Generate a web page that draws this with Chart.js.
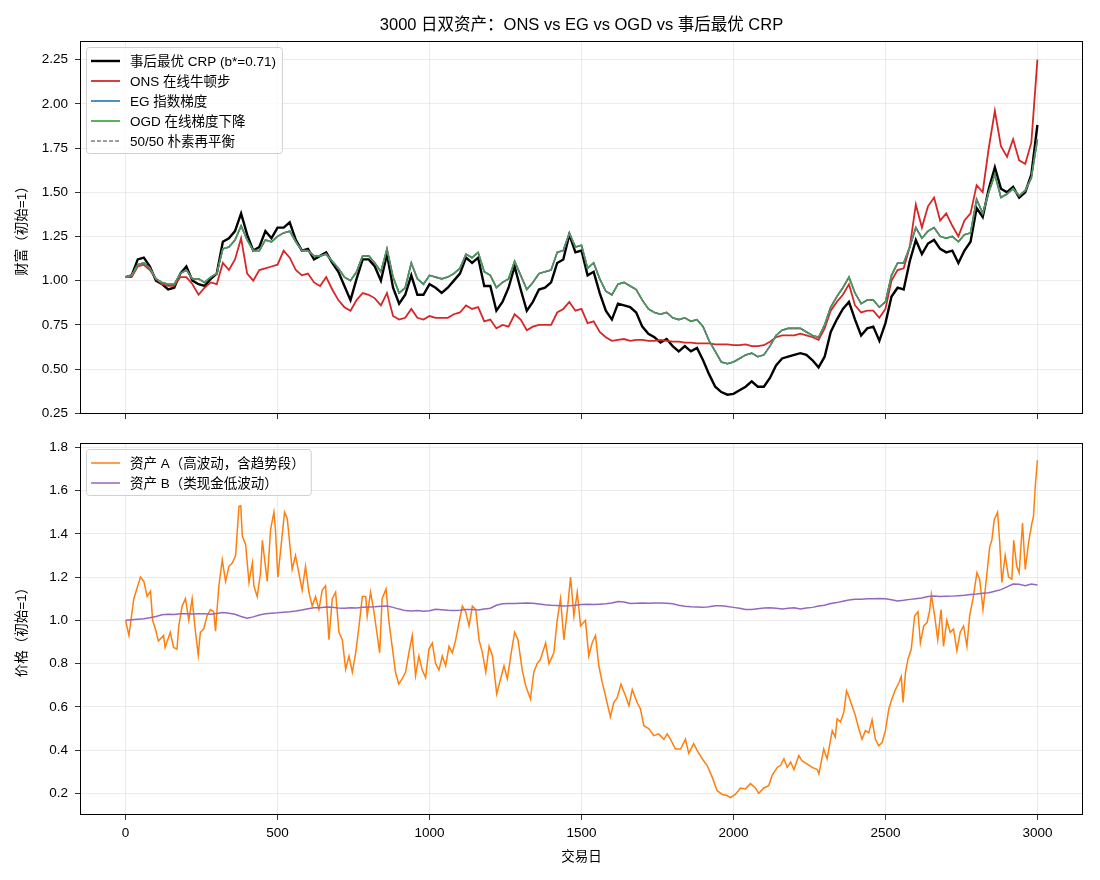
<!DOCTYPE html>
<html>
<head>
<meta charset="utf-8">
<script src="https://cdn.jsdelivr.net/npm/chart.js@4.4.0/dist/chart.umd.min.js"></script>
<style>
  html, body { margin: 0; padding: 0; background: #fff; }
  #wrap { position: relative; width: 1100px; height: 880px; }
  canvas { position: absolute; left: 0; }
  #wealthChart { top: 0; }
  #priceChart { top: 440px; }
</style>
</head>
<body>
<div id="wrap">
  <canvas id="wealthChart" width="1100" height="440"></canvas>
  <canvas id="priceChart" width="1100" height="440"></canvas>
</div>
<script>
// wealth curves and asset B every 20 trading days
const DAY_STEP = 20;
const days = Array.from({ length: 151 }, (_, i) => i * DAY_STEP);

const xTicks = [0, 500, 1000, 1500, 2000, 2500, 3000];
const wealthTicks = [0.25, 0.50, 0.75, 1.00, 1.25, 1.50, 1.75, 2.00, 2.25];
const priceTicks = [0.2, 0.4, 0.6, 0.8, 1.0, 1.2, 1.4, 1.6, 1.8];

// 事后最优 CRP
const crpWealth = [
  1.02, 1.03, 1.12, 1.13, 1.08, 1.00, 0.98, 0.95, 0.96, 1.04,
  1.08, 1.00, 0.98, 0.97, 1.01, 1.04, 1.22, 1.24, 1.28, 1.38,
  1.26, 1.17, 1.19, 1.28, 1.24, 1.30, 1.30, 1.33, 1.23, 1.17,
  1.18, 1.12, 1.14, 1.16, 1.10, 1.05, 0.97, 0.89, 1.01, 1.12,
  1.12, 1.08, 1.00, 1.15, 0.96, 0.87, 0.92, 1.03, 0.92, 0.92,
  0.98, 0.96, 0.93, 0.96, 1.00, 1.04, 1.13, 1.10, 1.13, 0.97,
  0.97, 0.83, 0.88, 0.96, 1.08, 0.95, 0.83, 0.88, 0.95, 0.96,
  0.99, 1.10, 1.12, 1.26, 1.16, 1.17, 1.03, 1.05, 0.93, 0.83,
  0.78, 0.87, 0.86, 0.85, 0.82, 0.74, 0.70, 0.68, 0.65, 0.67,
  0.63, 0.60, 0.63, 0.60, 0.62, 0.55, 0.47, 0.40, 0.37, 0.355,
  0.36, 0.38, 0.40, 0.43, 0.40, 0.40, 0.45, 0.52, 0.56, 0.57,
  0.58, 0.59, 0.58, 0.55, 0.51, 0.57, 0.71, 0.78, 0.84, 0.88,
  0.78, 0.69, 0.73, 0.74, 0.66, 0.76, 0.91, 0.96, 0.95, 1.11,
  1.23, 1.15, 1.21, 1.23, 1.18, 1.16, 1.17, 1.10, 1.17, 1.22,
  1.41, 1.36, 1.52, 1.64, 1.52, 1.50, 1.53, 1.47, 1.50, 1.60,
  1.88
];

// ONS 在线牛顿步
const onsWealth = [
  1.02, 1.02, 1.08, 1.09, 1.06, 1.01, 0.98, 0.97, 0.97, 1.02,
  1.02, 0.98, 0.92, 0.96, 0.99, 0.98, 1.10, 1.06, 1.12, 1.24,
  1.04, 1.00, 1.06, 1.07, 1.08, 1.09, 1.17, 1.13, 1.06, 1.03,
  1.04, 0.99, 0.97, 1.02, 0.95, 0.89, 0.85, 0.83, 0.89, 0.93,
  0.92, 0.90, 0.86, 0.93, 0.80, 0.78, 0.79, 0.84, 0.79, 0.78,
  0.80, 0.79, 0.79, 0.79, 0.81, 0.82, 0.86, 0.84, 0.85, 0.77,
  0.78, 0.73, 0.75, 0.74, 0.81, 0.78, 0.72, 0.74, 0.75, 0.75,
  0.75, 0.82, 0.84, 0.88, 0.83, 0.84, 0.76, 0.77, 0.71, 0.68,
  0.66, 0.665, 0.67, 0.66, 0.665, 0.665, 0.66, 0.66, 0.665, 0.66,
  0.655, 0.655, 0.65, 0.65, 0.645, 0.645, 0.645, 0.64, 0.64, 0.64,
  0.635, 0.635, 0.64, 0.63, 0.63, 0.635, 0.655, 0.68, 0.69, 0.69,
  0.69, 0.70, 0.69, 0.68, 0.665, 0.73, 0.83, 0.88, 0.92, 0.98,
  0.86, 0.82, 0.83, 0.83, 0.79, 0.84, 1.00, 1.06, 1.07, 1.19,
  1.43, 1.30, 1.42, 1.47, 1.34, 1.38, 1.31, 1.25, 1.34, 1.38,
  1.54, 1.50, 1.75, 1.96, 1.76, 1.70, 1.80, 1.68, 1.66, 1.78,
  2.25
];

// EG, OGD and 50/50 overlap at this scale, so they share one reading
const balancedWealth = [
  1.02, 1.03, 1.09, 1.10, 1.07, 1.01, 0.99, 0.98, 0.98, 1.04,
  1.06, 1.01, 1.01, 0.99, 1.02, 1.04, 1.18, 1.19, 1.23, 1.31,
  1.23, 1.17, 1.17, 1.23, 1.22, 1.25, 1.27, 1.28, 1.22, 1.17,
  1.17, 1.14, 1.14, 1.15, 1.11, 1.07, 1.02, 1.00, 1.05, 1.14,
  1.14, 1.10, 1.05, 1.18, 1.02, 0.93, 0.96, 1.10, 1.01, 0.98,
  1.03, 1.02, 1.01, 1.02, 1.04, 1.07, 1.15, 1.13, 1.16, 1.05,
  1.03, 0.96, 0.99, 1.01, 1.11, 1.03, 0.95, 0.99, 1.04, 1.05,
  1.06, 1.16, 1.17, 1.27, 1.19, 1.20, 1.07, 1.10, 1.01, 0.94,
  0.92, 0.98, 0.99, 0.97, 0.95, 0.89, 0.84, 0.82, 0.81, 0.82,
  0.79, 0.78, 0.79, 0.77, 0.78, 0.74, 0.66, 0.60, 0.54, 0.53,
  0.54, 0.56, 0.58, 0.59, 0.57, 0.58, 0.63, 0.69, 0.72, 0.73,
  0.73, 0.73, 0.71, 0.69, 0.68, 0.75, 0.85, 0.91, 0.96, 1.02,
  0.93, 0.87, 0.89, 0.89, 0.85, 0.88, 1.03, 1.10, 1.10, 1.19,
  1.30, 1.24, 1.28, 1.30, 1.25, 1.24, 1.25, 1.22, 1.26, 1.27,
  1.46, 1.38, 1.50, 1.60, 1.47, 1.49, 1.52, 1.48, 1.51, 1.58,
  1.80
];

// 资产 A: read at its turning points, so it keeps its own day list
const assetADays = [
  0, 11, 27, 49, 60, 71, 82, 89, 98, 108, 125, 130, 147, 158, 169, 175, 186, 197, 208, 219,
  230, 239, 246, 257, 268, 279, 290, 296, 301, 307, 318, 329, 340, 351, 362, 373, 379, 384, 395, 406,
  417, 422, 433, 444, 450, 455, 466, 477, 488, 493, 501, 512, 523, 532, 539, 548, 559, 570, 581, 592,
  603, 614, 625, 636, 647, 658, 669, 680, 691, 702, 713, 724, 735, 746, 757, 768, 779, 790, 795, 806,
  817, 828, 836, 844, 857, 866, 877, 888, 899, 910, 921, 932, 943, 954, 965, 976, 987, 998, 1009, 1020,
  1031, 1042, 1053, 1064, 1075, 1086, 1097, 1108, 1119, 1130, 1141, 1152, 1163, 1174, 1185, 1196, 1207, 1221, 1234, 1245,
  1256, 1267, 1280, 1291, 1305, 1316, 1332, 1343, 1354, 1365, 1382, 1393, 1409, 1420, 1431, 1442, 1453, 1464, 1475, 1486,
  1497, 1513, 1524, 1535, 1546, 1557, 1568, 1579, 1595, 1606, 1617, 1630, 1645, 1656, 1667, 1683, 1694, 1705, 1721, 1738,
  1754, 1771, 1782, 1793, 1809, 1826, 1842, 1853, 1869, 1880, 1897, 1913, 1930, 1946, 1963, 1979, 1990, 2006, 2023, 2039,
  2056, 2072, 2083, 2100, 2116, 2127, 2144, 2155, 2166, 2177, 2188, 2199, 2215, 2226, 2243, 2259, 2276, 2281, 2297, 2308,
  2325, 2335, 2341, 2352, 2363, 2372, 2379, 2390, 2401, 2412, 2423, 2434, 2445, 2456, 2467, 2478, 2489, 2500, 2511, 2522,
  2533, 2544, 2552, 2558, 2566, 2574, 2585, 2596, 2607, 2615, 2626, 2637, 2646, 2651, 2662, 2672, 2683, 2691, 2702, 2713,
  2724, 2735, 2746, 2757, 2768, 2777, 2788, 2801, 2810, 2821, 2832, 2843, 2850, 2858, 2869, 2876, 2883, 2894, 2905, 2916,
  2922, 2932, 2940, 2951, 2960, 2971, 2982, 2987, 2993, 3000
];
const assetA = [
  1.00, 0.93, 1.10, 1.20, 1.18, 1.11, 1.135, 1.00, 0.96, 0.905, 0.93, 0.875, 0.945, 0.875, 0.867, 0.974, 1.066, 1.10, 1.00, 1.10,
  0.945, 0.84, 0.945, 0.96, 1.02, 1.05, 1.04, 0.95, 1.05, 1.16, 1.28, 1.18, 1.25, 1.265, 1.30, 1.527, 1.53, 1.39, 1.35, 1.175,
  1.265, 1.16, 1.11, 1.22, 1.37, 1.31, 1.18, 1.42, 1.50, 1.42, 1.20, 1.35, 1.50, 1.47, 1.37, 1.235, 1.30, 1.22, 1.14, 1.25,
  1.13, 1.066, 1.11, 1.05, 1.14, 1.16, 0.91, 1.10, 1.13, 0.945, 0.91, 0.774, 0.835, 0.76, 0.85, 0.974, 1.11, 1.11, 1.02, 1.13,
  1.04, 0.93, 0.85, 1.10, 1.145, 1.00, 0.88, 0.76, 0.705, 0.73, 0.76, 0.85, 0.93, 0.745, 0.835, 0.77, 0.735, 0.866, 0.895, 0.80,
  0.77, 0.835, 0.79, 0.88, 0.85, 0.91, 0.99, 1.066, 1.04, 0.974, 1.066, 1.05, 0.91, 0.85, 0.76, 0.88, 0.835, 0.66, 0.73, 0.79,
  0.73, 0.835, 0.945, 0.91, 0.77, 0.70, 0.636, 0.76, 0.80, 0.82, 0.895, 0.80, 0.85, 1.00, 1.10, 0.91, 1.04, 1.20, 1.02, 1.13,
  0.974, 1.00, 0.835, 0.895, 0.93, 0.79, 0.714, 0.65, 0.553, 0.62, 0.64, 0.705, 0.65, 0.605, 0.68, 0.62, 0.59, 0.513, 0.50, 0.467,
  0.475, 0.45, 0.475, 0.45, 0.405, 0.405, 0.45, 0.385, 0.43, 0.40, 0.36, 0.33, 0.275, 0.213, 0.195, 0.19, 0.18, 0.195, 0.225, 0.22,
  0.245, 0.225, 0.20, 0.225, 0.235, 0.283, 0.32, 0.33, 0.36, 0.32, 0.345, 0.31, 0.375, 0.35, 0.335, 0.32, 0.31, 0.29, 0.405, 0.36,
  0.49, 0.46, 0.545, 0.53, 0.575, 0.674, 0.65, 0.605, 0.56, 0.50, 0.45, 0.49, 0.48, 0.54, 0.45, 0.42, 0.435, 0.49, 0.59, 0.64,
  0.68, 0.71, 0.74, 0.62, 0.76, 0.82, 0.866, 1.02, 1.04, 0.895, 0.974, 0.99, 1.05, 1.12, 1.02, 0.91, 1.05, 0.88, 1.00, 0.945,
  0.96, 0.86, 0.945, 0.974, 0.88, 1.02, 1.10, 1.22, 1.19, 1.05, 1.19, 1.34, 1.37, 1.465, 1.50, 1.36, 1.175, 1.30, 1.20, 1.19,
  1.37, 1.25, 1.22, 1.45, 1.235, 1.36, 1.45, 1.48, 1.62, 1.74
];

// 资产 B
const assetB = [
  1.000, 1.003, 1.005, 1.007, 1.012, 1.018, 1.026, 1.028, 1.027, 1.030,
  1.031, 1.029, 1.030, 1.030, 1.028, 1.032, 1.036, 1.033, 1.028, 1.018,
  1.010, 1.016, 1.025, 1.030, 1.033, 1.035, 1.038, 1.040, 1.043, 1.048,
  1.054, 1.058, 1.058, 1.062, 1.060, 1.057, 1.056, 1.058, 1.057, 1.060,
  1.062, 1.063, 1.065, 1.066, 1.060, 1.052, 1.045, 1.043, 1.046, 1.042,
  1.044, 1.051, 1.049, 1.047, 1.046, 1.047, 1.050, 1.050, 1.048, 1.052,
  1.056, 1.070, 1.077, 1.078, 1.078, 1.079, 1.080, 1.079, 1.076, 1.072,
  1.070, 1.069, 1.066, 1.067, 1.070, 1.073, 1.074, 1.073, 1.075, 1.077,
  1.080, 1.087, 1.085, 1.078, 1.079, 1.080, 1.079, 1.080, 1.080, 1.079,
  1.077, 1.070, 1.065, 1.063, 1.062, 1.060, 1.063, 1.067, 1.068, 1.064,
  1.060, 1.056, 1.050, 1.050, 1.054, 1.057, 1.058, 1.056, 1.053, 1.056,
  1.058, 1.052, 1.057, 1.060, 1.066, 1.070, 1.078, 1.082, 1.088, 1.094,
  1.097, 1.098, 1.100, 1.100, 1.101, 1.100, 1.095, 1.090, 1.093, 1.097,
  1.100, 1.103, 1.110, 1.112, 1.110, 1.111, 1.112, 1.114, 1.116, 1.120,
  1.122, 1.125, 1.128, 1.135, 1.142, 1.155, 1.168, 1.167, 1.160, 1.168,
  1.163
];

const FONT = '"Liberation Sans", "Noto Sans CJK SC", sans-serif';
Chart.defaults.font.family = FONT;
Chart.defaults.font.size = 13.5;
Chart.defaults.color = '#000';

const GRID = '#e6e6e6';

function toPoints(xs, values) {
  return xs.map((d, i) => ({ x: d, y: values[i] }));
}

// full black frame round the plot area, like matplotlib spines
const framePlugin = {
  id: 'frame',
  afterDatasetsDraw(chart) {
    const { ctx, chartArea: a } = chart;
    ctx.save();
    ctx.strokeStyle = '#000';
    ctx.lineWidth = 1;
    ctx.strokeRect(Math.round(a.left) + 0.5, Math.round(a.top) + 0.5,
      Math.round(a.right - a.left) - 1, Math.round(a.bottom - a.top) - 1);
    ctx.restore();
  }
};

// legend box in the upper left of the plot area
const boxLegend = {
  id: 'boxLegend',
  afterDraw(chart) {
    const { ctx, chartArea: a } = chart;
    const sets = chart.data.datasets;
    ctx.save();
    ctx.font = '13.5px ' + FONT;
    let textW = 0;
    sets.forEach(ds => { textW = Math.max(textW, ctx.measureText(ds.label).width); });
    const x0 = a.left + 6, y0 = a.top + 6;
    const w = 44 + textW + 6;
    const h = 14 + 20 * (sets.length - 1) + 12;
    ctx.beginPath();
    ctx.roundRect(x0 + 0.5, y0 + 0.5, w, h, 3);
    ctx.fillStyle = 'rgba(255,255,255,0.8)';
    ctx.fill();
    ctx.strokeStyle = '#d0d0d0';
    ctx.lineWidth = 1;
    ctx.stroke();
    sets.forEach((ds, i) => {
      const cy = y0 + 14 + i * 20;
      ctx.beginPath();
      ctx.setLineDash(ds.borderDash || []);
      ctx.strokeStyle = ds.borderColor;
      ctx.lineWidth = ds.borderWidth;
      ctx.moveTo(x0 + 5, cy);
      ctx.lineTo(x0 + 34, cy);
      ctx.stroke();
      ctx.setLineDash([]);
      ctx.fillStyle = '#000';
      ctx.textBaseline = 'middle';
      ctx.fillText(ds.label, x0 + 44, cy + 1);
    });
    ctx.restore();
  }
};

const figTitle = {
  id: 'figTitle',
  afterDraw(chart) {
    const { ctx, chartArea: a } = chart;
    ctx.save();
    ctx.font = '16.5px ' + FONT;
    ctx.fillStyle = '#000';
    ctx.textAlign = 'center';
    ctx.textBaseline = 'middle';
    ctx.fillText('3000 日双资产：ONS vs EG vs OGD vs 事后最优 CRP', (a.left + a.right) / 2, 25);
    ctx.restore();
  }
};

function xScale(showLabels, height) {
  return {
    type: 'linear',
    min: -150,
    max: 3150,
    afterBuildTicks: s => { s.ticks = xTicks.map(v => ({ value: v })); },
    afterFit: s => { s.height = height; s.paddingLeft = 0; s.paddingRight = 0; },
    ticks: { display: showLabels, padding: 5, maxRotation: 0, callback: v => String(v) },
    grid: { color: GRID, lineWidth: 0.8, tickColor: '#000', tickLength: 5 },
    border: { display: false },
    title: { display: showLabels, text: '交易日', padding: { top: 4, bottom: 15 } }
  };
}

function yScale(min, max, tickList, digits, label) {
  return {
    min: min,
    max: max,
    afterBuildTicks: s => { s.ticks = tickList.map(v => ({ value: v })); },
    afterFit: s => { s.width = 80; s.paddingTop = 0; s.paddingBottom = 0; },
    ticks: { padding: 7, callback: v => v.toFixed(digits) },
    grid: { color: GRID, lineWidth: 0.8, tickColor: '#000', tickLength: 5 },
    border: { display: false },
    title: { display: true, text: label, padding: { top: 14, bottom: 0 } }
  };
}

const common = {
  responsive: false,
  animation: false,
  events: [],
  elements: { point: { radius: 0 }, line: { tension: 0 } },
  plugins: { legend: { display: false }, tooltip: { enabled: false } }
};

new Chart(document.getElementById('wealthChart'), {
  type: 'line',
  data: {
    datasets: [
      { label: '事后最优 CRP (b*=0.71)', data: toPoints(days, crpWealth), borderColor: '#000000', borderWidth: 2.4, order: 5 },
      { label: 'ONS 在线牛顿步', data: toPoints(days, onsWealth), borderColor: '#d62728', borderWidth: 1.8, order: 4 },
      { label: 'EG 指数梯度', data: toPoints(days, balancedWealth), borderColor: '#1f77b4', borderWidth: 1.6, order: 3 },
      { label: 'OGD 在线梯度下降', data: toPoints(days, balancedWealth), borderColor: '#2ca02c', borderWidth: 1.6, order: 2 },
      { label: '50/50 朴素再平衡', data: toPoints(days, balancedWealth), borderColor: '#7f7f7f', borderWidth: 1.4, borderDash: [4, 2], order: 1 }
    ]
  },
  options: {
    ...common,
    layout: { padding: { left: 0, right: 17, top: 41, bottom: 0 } },
    scales: {
      x: xScale(false, 26),
      y: yScale(0.246, 2.355, wealthTicks, 2, '财富（初始=1）')
    }
  },
  plugins: [framePlugin, boxLegend, figTitle]
});

new Chart(document.getElementById('priceChart'), {
  type: 'line',
  data: {
    datasets: [
      { label: '资产 A（高波动，含趋势段）', data: toPoints(assetADays, assetA), borderColor: '#ff7f0e', borderWidth: 1.5, order: 2 },
      { label: '资产 B（类现金低波动）', data: toPoints(days, assetB), borderColor: '#9467bd', borderWidth: 1.5, order: 1 }
    ]
  },
  options: {
    ...common,
    layout: { padding: { left: 0, right: 17, top: 3, bottom: 0 } },
    scales: {
      x: xScale(true, 65),
      y: yScale(0.10, 1.82, priceTicks, 1, '价格（初始=1）')
    }
  },
  plugins: [framePlugin, boxLegend]
});
</script>
</body>
</html>
